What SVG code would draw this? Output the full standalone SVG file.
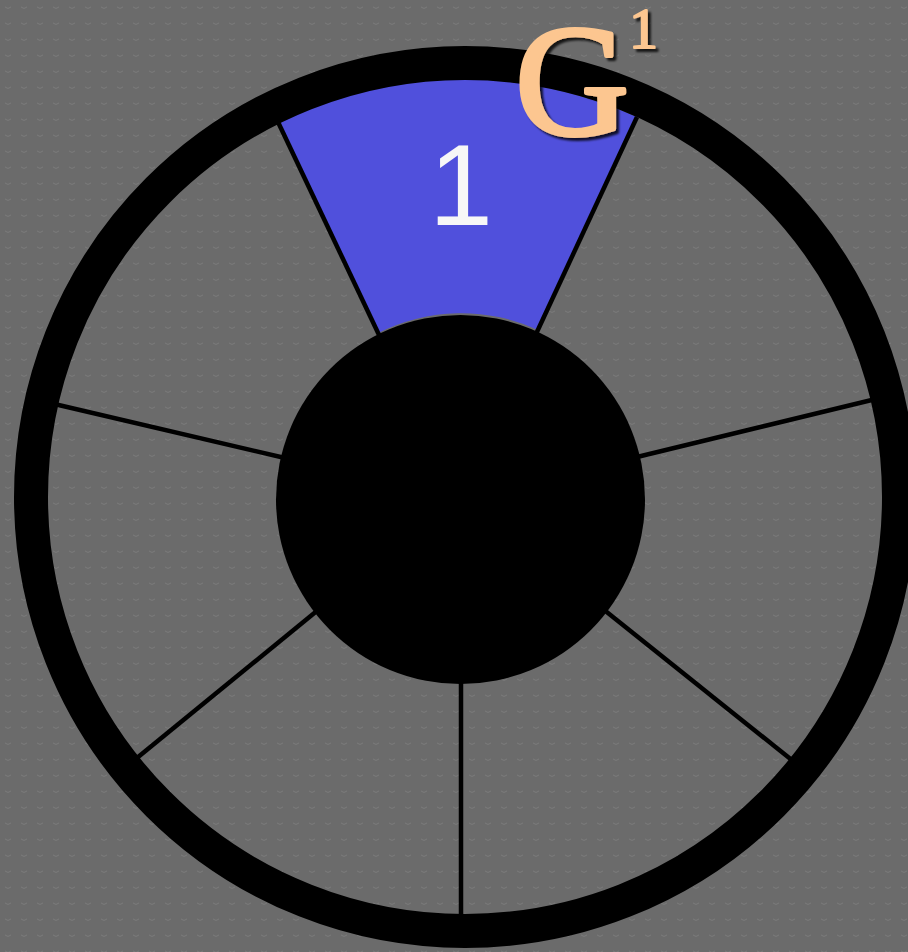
<svg xmlns="http://www.w3.org/2000/svg" width="908" height="952" viewBox="0 0 908 952">
  <defs>
    <pattern id="dots" width="16" height="16" patternUnits="userSpaceOnUse">
      <path d="M5 7 q3 3 6 0" fill="none" stroke="#7a7a7a" stroke-width="1"/>
    </pattern>
    <filter id="shadow" x="-10%" y="-10%" width="130%" height="130%">
      <feDropShadow dx="3" dy="3" stdDeviation="1.2" flood-color="#000" flood-opacity="0.8"/>
    </filter>
    <style>
      .spoke { stroke: #000; stroke-width: 4.5; stroke-linecap: butt; }
      .ring { fill: none; stroke: #000; stroke-width: 34; }
      .hub { fill: #000; }
      .seg { fill: #5050dc; }
      .num { font-family: "Liberation Sans", Arial, sans-serif; fill: #f7f7f7; }
      .g { font-family: "Liberation Serif", "Times New Roman", serif; fill: #fcc690; stroke: #fcc690; stroke-linejoin: round; filter: url(#shadow); }
    </style>
  </defs>
  <rect width="908" height="952" fill="#6b6b6b"/>
  <rect width="908" height="952" fill="url(#dots)"/>

  <g id="segment-1">
    <path class="seg" d="M278,122 L378,333 A184.5,184.5 0 0 1 538,330 L637,117 A418,418 0 0 0 278,122 Z"/>
    <text class="num" x="429" y="225" font-size="115">1</text>
  </g>

  <g id="spokes">
    <line class="spoke" x1="278" y1="122" x2="380" y2="337"/>
    <line class="spoke" x1="637" y1="117" x2="536" y2="334"/>
    <line class="spoke" x1="50" y1="403" x2="285" y2="458"/>
    <line class="spoke" x1="880" y1="398" x2="637" y2="457"/>
    <line class="spoke" x1="132" y1="762" x2="318" y2="610"/>
    <line class="spoke" x1="461" y1="920" x2="461" y2="680"/>
    <line class="spoke" x1="798" y1="765" x2="603" y2="609"/>
  </g>

  <g id="outer-ring">
    <circle class="ring" cx="465" cy="497" r="434"/>
  </g>

  <g id="hub">
    <circle class="hub" cx="460.5" cy="499.5" r="184.5"/>
  </g>

  <g id="label-g1">
    <text class="g" x="515" y="134" font-size="158" stroke-width="4">G</text>
    <text class="g" x="629" y="48" font-size="58" stroke-width="2">1</text>
  </g>
</svg>
